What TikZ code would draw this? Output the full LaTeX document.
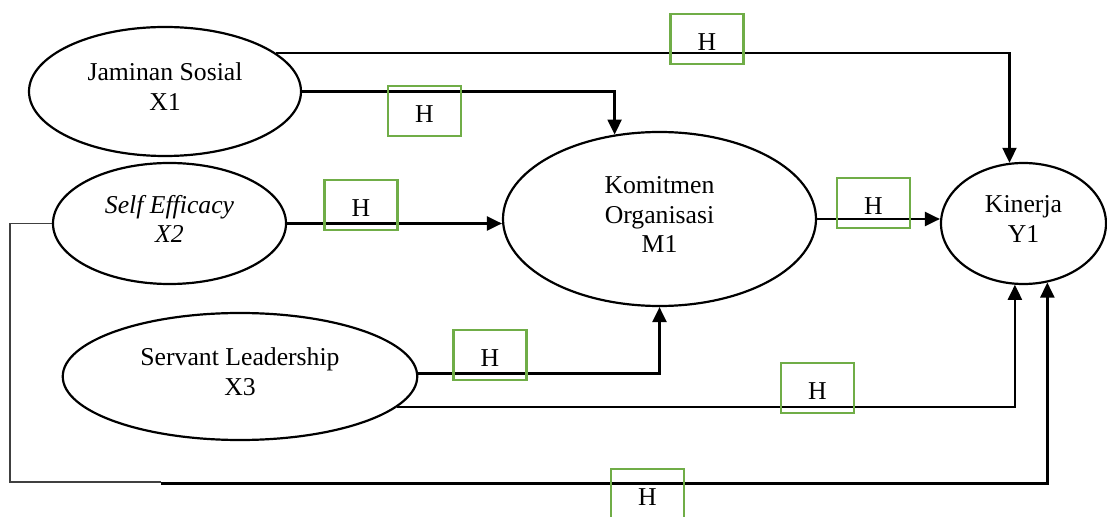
\documentclass[tikz,border=0pt]{standalone}
\usepackage{fontspec}
\setmainfont{Liberation Serif}
\usetikzlibrary{shapes.geometric,arrows.meta}
\definecolor{hgreen}{RGB}{112,173,71}
\begin{document}
\begin{tikzpicture}[x=1bp,y=-1bp,
  var/.style={ellipse,draw,line width=2.2bp,inner sep=0pt,align=center,text depth=9bp,font=\fontsize{25.8}{30}\selectfont},
  hbox/.style={draw=hgreen,line width=2.5bp,minimum width=73bp,minimum height=50bp,inner sep=0pt,text height=23bp,text depth=0bp,font=\fontsize{25.8}{30}\selectfont},
  link/.style={line width=2.3bp,-{Triangle[length=15bp,width=14bp]}},
  thinlink/.style={line width=1.2bp,draw=black!75}
]
\useasboundingbox (0,0) rectangle (1107,517);
\node[var,minimum width=272bp,minimum height=129bp] (X1) at (165,91.5) {Jaminan Sosial\\X1};
\node[var,minimum width=233bp,minimum height=121bp] (X2) at (169.5,223.5) {\textit{Self Efficacy}\\\textit{X2}};
\node[var,minimum width=313bp,minimum height=174bp] (M1) at (659.5,219) {Komitmen\\Organisasi\\M1};
\node[var,minimum width=165bp,minimum height=121bp] (Y1) at (1023.5,223.5) {Kinerja\\Y1};
\node[var,minimum width=354.5bp,minimum height=127bp] (X3) at (240,376.5) {Servant Leadership\\X3};

\coordinate (c1) at (10,482);
\coordinate (c2) at (161,482);
\coordinate (c3) at (161,483.5);

\draw[link] (X1.19) -| (Y1.103.7);
\draw[link] (X1.east) -| (M1.118.1);
\draw[link] (X2.east) -- (X2.east -| M1.west);
\draw[link] (M1.east) -- (M1.east -| Y1.west);
\draw[link] (X3.1.5) -| (M1.south);
\draw[link] (X3.349.8) -| (Y1.262.9);
\draw[thinlink] (X2.west) -| (c1) -- (c2);
\draw[link] (c3) -| (Y1.292.1);

\node[hbox] (h1) at (707,39) {H};
\node[hbox] (h2) at (424.5,111) {H};
\node[hbox] (h3) at (361,205) {H};
\node[hbox] (h4) at (873.5,203) {H};
\node[hbox] (h5) at (490,355) {H};
\node[hbox] (h6) at (817.5,388) {H};
\node[hbox] (h7) at (647.5,494) {H};
\end{tikzpicture}
\end{document}
